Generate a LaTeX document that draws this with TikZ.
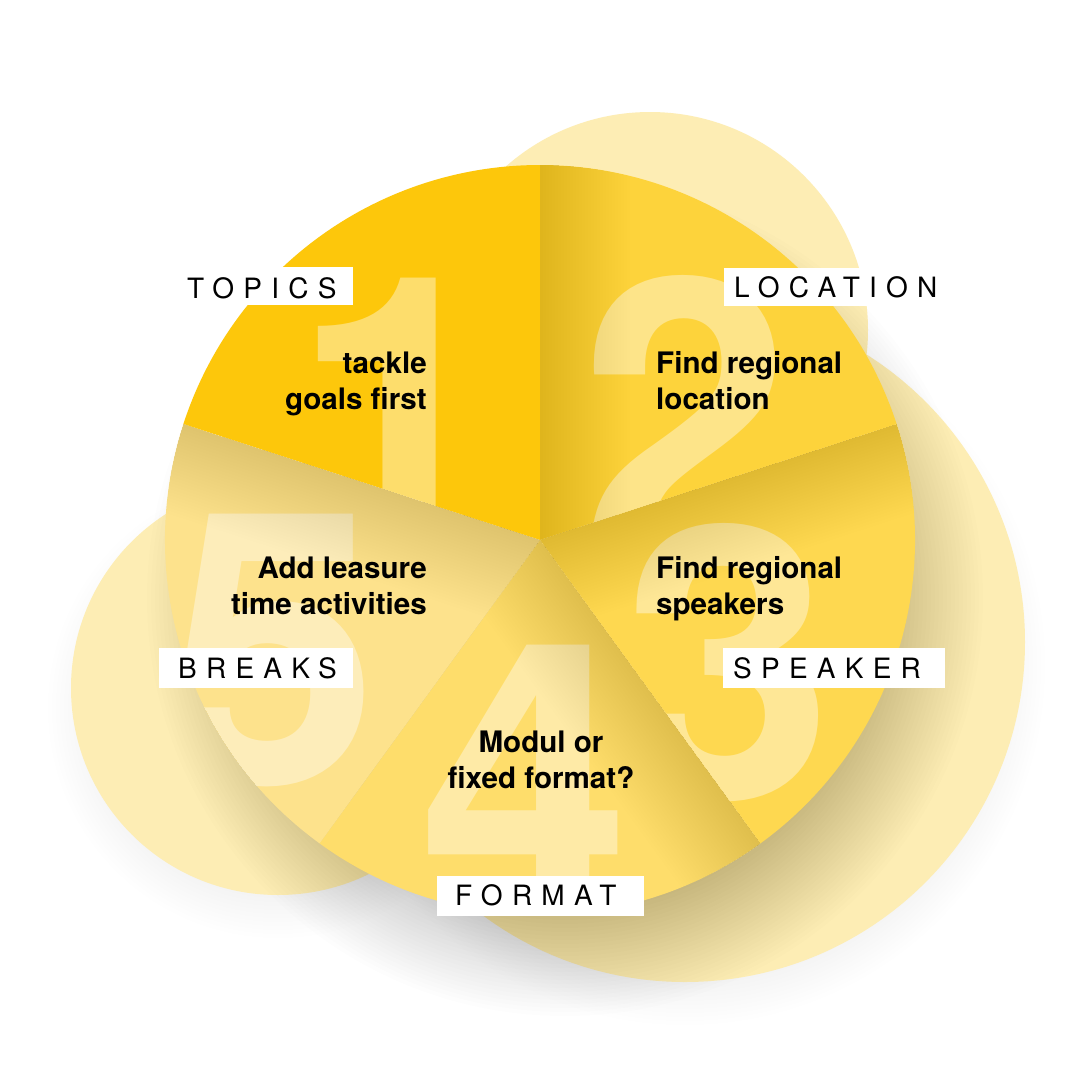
\documentclass[tikz,border=0pt]{standalone}
\usepackage{fontspec}
\setmainfont{TeX Gyre Heros}
\newfontfamily\labelfont[LetterSpace=33]{TeX Gyre Heros}
\usetikzlibrary{calc}
\definecolor{bgc}{HTML}{FDEDB4}
\definecolor{sA}{HTML}{FDC70B}
\definecolor{sB}{HTML}{FDD33B}
\definecolor{sC}{HTML}{FED850}
\definecolor{sD}{HTML}{FEDD6B}
\definecolor{sE}{HTML}{FDE28C}
\tikzset{
  pieslice/.style 2 args={insert path={(c) -- +(#1:375) arc[start angle=#1, end angle=#2, radius=375] -- cycle}},
  bodytext/.style={font=\bfseries\fontsize{29.6}{36}\selectfont, inner sep=0pt, text=black},
  lbox/.style={fill=white, draw=none, inner sep=0pt},
  ltext/.style={font=\labelfont\fontsize{28}{28}\selectfont, inner sep=0pt, anchor=base west, text=black},
  digit/.style={font=\bfseries\fontsize{380}{380}\selectfont, text=white, text opacity=0.4, inner sep=0pt, anchor=base},
}
\newcommand\innershade[2]{%
  \foreach \s in {3,6,...,90} {
    \fill[black, opacity=0.0055] (c) -- ($(c)+(#1:400)$) -- ($(c)+(#1:400)+(#2:\s)$) -- ($(c)+(#2:\s)$) -- cycle;
  }%
}
\begin{document}
\begin{tikzpicture}[x=1pt,y=-1pt]
\useasboundingbox (0,0) rectangle (1080,1080);
\fill[white] (0,0) rectangle (1080,1080);
\coordinate (c) at (540,540);
% faint shadows of background circles
\foreach \k in {0,...,11} {
  \fill[black, opacity=0.004] (685,665) circle[radius={316+\k*4}];
  \fill[black, opacity=0.004] (278,708) circle[radius={186+\k*4}];
}
% background circles
\fill[bgc] (650,330) circle[radius=218];
\fill[bgc] (685,642) circle[radius=340];
\fill[bgc] (278,688) circle[radius=207];
% pie drop shadow
\foreach \k in {0,...,29} {
  \fill[black, opacity=0.009] (565,598) circle[radius={302+\k*4}];
}
% slice 1
\begin{scope}
  \clip[pieslice={198}{270}];
  \fill[sA] (0,0) rectangle (1080,1080);
  \node[digit] (d1) at (398,547) {1};
\end{scope}
% slice 2
\begin{scope}
  \clip[pieslice={270}{342}];
  \fill[sB] (0,0) rectangle (1080,1080);
  \node[digit] (d2) at (685,550) {2};
  \innershade{270}{0}
\end{scope}
% slice 3
\begin{scope}
  \clip[pieslice={342}{414}];
  \fill[sC] (0,0) rectangle (1080,1080);
  \node[digit] (d3) at (728,798) {3};
  \innershade{342}{72}
\end{scope}
% slice 4
\begin{scope}
  \clip[pieslice={54}{126}];
  \fill[sD] (0,0) rectangle (1080,1080);
  \node[digit] (d4) at (525,914) {4};
  \innershade{54}{144}
\end{scope}
% slice 5
\begin{scope}
  \clip[pieslice={126}{198}];
  \fill[sE] (0,0) rectangle (1080,1080);
  \node[digit] (d5) at (273,783) {5};
  \innershade{198}{108}
\end{scope}
% body texts (anchor = baseline of last line)
\node[bodytext, align=right, anchor=base east] (t1) at (427,409) {tackle\\goals first};
\node[bodytext, align=left, anchor=base west] (t2) at (656,409) {Find regional\\location};
\node[bodytext, align=left, anchor=base west] (t3) at (656,614) {Find regional\\speakers};
\node[bodytext, align=center, anchor=base] (t4) at (541,788) {Modul or\\fixed format?};
\node[bodytext, align=right, anchor=base east] (t5) at (427,614) {Add leasure\\time activities};
% labels
\node[lbox, minimum width=175, minimum height=38] (b1) at (265.5,286) {};
\node[ltext] (l1) at (187,298) {TOPICS};
\node[lbox, minimum width=221, minimum height=38] (b2) at (834.5,287) {};
\node[ltext] (l2) at (734,297) {LOCATION};
\node[lbox, minimum width=222, minimum height=40] (b3) at (834,668) {};
\node[ltext] (l3) at (733,678) {SPEAKER};
\node[lbox, minimum width=207, minimum height=40] (b4) at (540.5,896) {};
\node[ltext] (l4) at (455,905) {FORMAT};
\node[lbox, minimum width=194, minimum height=40] (b5) at (256,668) {};
\node[ltext] (l5) at (178,678) {BREAKS};
\end{tikzpicture}
\end{document}
